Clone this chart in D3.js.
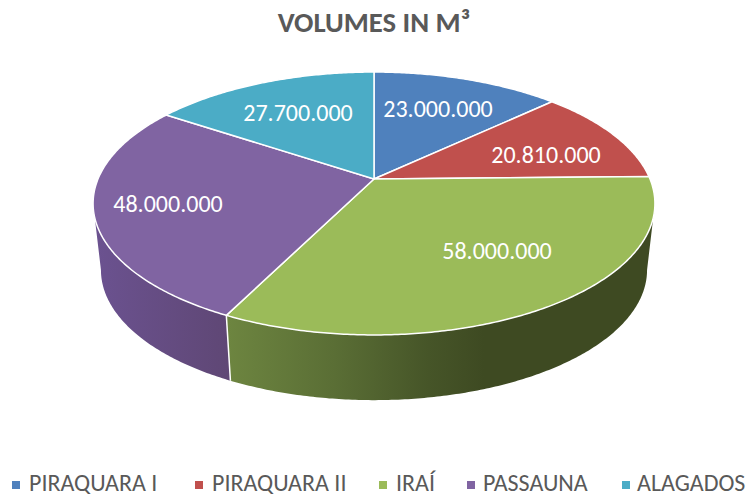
<!DOCTYPE html>
<html>
<head>
<meta charset="utf-8">
<script src="https://cdn.jsdelivr.net/npm/d3@7"></script>
<style>
  html, body { margin: 0; padding: 0; background: #fff; }
  svg { display: block; }
  text { font-family: Carlito, Calibri, Lato, sans-serif; }
</style>
</head>
<body>
<div id="main"></div>
<script>
const names = ["PIRAQUARA I", "PIRAQUARA II", "IRAÍ", "PASSAUNA", "ALAGADOS"];
const volumes = [23000000, 20810000, 58000000, 48000000, 27700000];
const labels = ["23.000.000", "20.810.000", "58.000.000", "48.000.000", "27.700.000"];
const colors = ["#4f81bd", "#c0504d", "#9bbb59", "#8064a2", "#4bacc6"];

const width = 749;
const height = 497;

// perspective of the disc: spokes meet at (cx, cy), which is not the middle of the ellipse
const cx = 374;
const cy = 179;
const persp = 0.1863;
const scaleX = 276;
const scaleY = 126.9;

// bottom rim is the top rim moved down and slightly shrunk
const midY = 203.5;
const wallDrop = 66.5;
const bottomX = 0.972;
const bottomY = 0.99;

// the rim is widest at this angle, the wall is hidden behind the face past it
const wallStart = Math.PI / 2 + Math.asin(persp);
const wallEnd = 2 * Math.PI - wallStart;

const topPoint = (a) => {
  const w = 1 + persp * Math.cos(a);
  return [cx + (scaleX * Math.sin(a)) / w, cy - (scaleY * Math.cos(a)) / w];
};
const bottomPoint = (a) => {
  const p = topPoint(a);
  return [cx + (p[0] - cx) * bottomX, midY + wallDrop + (p[1] - midY) * bottomY];
};
const angles = (a0, a1) => d3.range(a0, a1, 0.01).concat([a1]);

const svg = d3.select("#main").append("svg").attr("width", width).attr("height", height);
const defs = svg.append("defs");

svg
  .append("text")
  .attr("x", 374)
  .attr("y", 32)
  .attr("text-anchor", "middle")
  .attr("fill", "#595959")
  .style("font-size", "28.7px")
  .style("font-weight", "700")
  .text("VOLUMES IN M³");

const arcs = d3.pie().sort(null).value((d) => d)(volumes);

// wall shading, dark towards the right
const purpleSide = defs
  .append("linearGradient")
  .attr("id", "side3")
  .attr("gradientUnits", "userSpaceOnUse")
  .attr("x1", 95)
  .attr("x2", 228)
  .attr("y1", 0)
  .attr("y2", 0);
purpleSide.append("stop").attr("offset", "0%").attr("stop-color", "#6b5290");
purpleSide.append("stop").attr("offset", "100%").attr("stop-color", "#5f4775");

const greenSide = defs
  .append("linearGradient")
  .attr("id", "side2")
  .attr("gradientUnits", "userSpaceOnUse")
  .attr("x1", 228)
  .attr("x2", 655)
  .attr("y1", 0)
  .attr("y2", 0);
greenSide.append("stop").attr("offset", "0%").attr("stop-color", "#6d8540");
greenSide.append("stop").attr("offset", "25%").attr("stop-color", "#5a6e35");
greenSide.append("stop").attr("offset", "47%").attr("stop-color", "#465528");
greenSide.append("stop").attr("offset", "60%").attr("stop-color", "#3e4a22");
greenSide.append("stop").attr("offset", "100%").attr("stop-color", "#3e4a22");

const line = d3.line();

arcs.forEach((d, i) => {
  const a0 = Math.max(d.startAngle, wallStart);
  const a1 = Math.min(d.endAngle, wallEnd);
  if (a1 <= a0) return;
  const steps = angles(a0, a1);
  const outline = steps.map(topPoint).concat(steps.map(bottomPoint).reverse());
  svg
    .append("path")
    .attr("d", line(outline) + "Z")
    .attr("fill", `url(#side${i})`);
});

// white seam where two walls meet
arcs.slice(1).forEach((d) => {
  if (d.startAngle <= wallStart || d.startAngle >= wallEnd) return;
  svg
    .append("path")
    .attr("d", line([topPoint(d.startAngle), bottomPoint(d.startAngle)]))
    .attr("stroke", "#fff")
    .attr("stroke-width", 1.5)
    .attr("fill", "none");
});

svg
  .append("g")
  .selectAll("path")
  .data(arcs)
  .enter()
  .append("path")
  .attr("d", (d) => line([[cx, cy]].concat(angles(d.startAngle, d.endAngle).map(topPoint))) + "Z")
  .attr("fill", (d, i) => colors[i])
  .attr("stroke", "#fff")
  .attr("stroke-width", 1.5)
  .attr("stroke-linejoin", "round");

const labelX = [438, 546, 497, 168, 298];
const labelY = [117, 163, 259, 212, 121];

svg
  .selectAll(".value")
  .data(labels)
  .enter()
  .append("text")
  .attr("class", "value")
  .attr("x", (d, i) => labelX[i])
  .attr("y", (d, i) => labelY[i])
  .attr("text-anchor", "middle")
  .attr("fill", "#fff")
  .style("font-size", "24px")
  .text((d) => d);

const legendSquareX = [12, 195, 379, 467, 622];
const legendTextX = [29, 212, 396, 483, 637];

names.forEach((n, i) => {
  svg
    .append("rect")
    .attr("x", legendSquareX[i])
    .attr("y", 481)
    .attr("width", 8)
    .attr("height", 8)
    .attr("fill", colors[i]);
  svg
    .append("text")
    .attr("x", legendTextX[i])
    .attr("y", 491)
    .attr("fill", "#595959")
    .style("font-size", "24px")
    .text(n);
});
</script>
</body>
</html>
